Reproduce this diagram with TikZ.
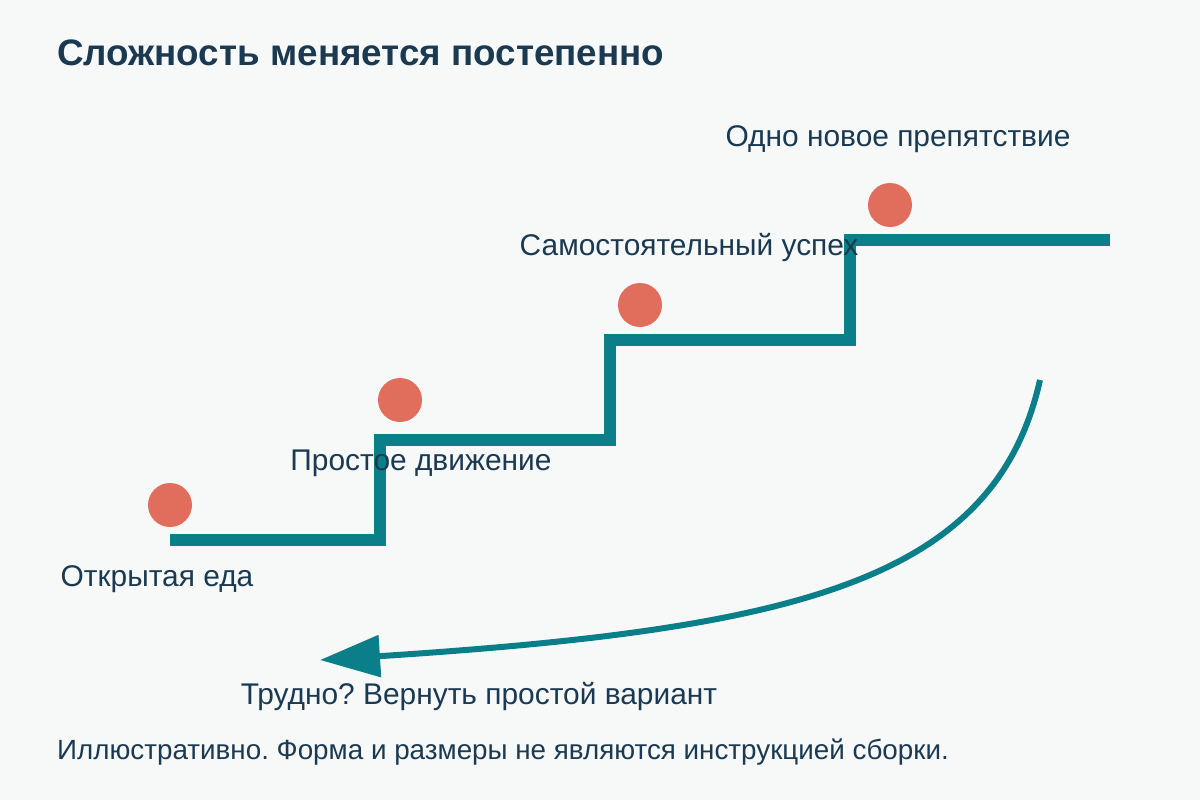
\documentclass[tikz,border=0pt]{standalone}
\usepackage{fontspec}
\setmainfont{Liberation Sans}
\usetikzlibrary{arrows.meta}
\definecolor{bgc}{HTML}{F7F9F9}
\definecolor{stepteal}{HTML}{0A7F8A}
\definecolor{dotc}{HTML}{E16E5C}
\definecolor{txt}{HTML}{1B3A52}
\tikzset{
  lbl/.style={inner sep=0pt, text=txt, font=\fontsize{29.9}{34}\selectfont, anchor=base},
  ttl/.style={inner sep=0pt, text=txt, font=\fontsize{36.8}{42}\selectfont\bfseries, anchor=base west},
  note/.style={inner sep=0pt, text=txt, font=\fontsize{27.8}{32}\selectfont\frenchspacing, anchor=base west},
  stair/.style={draw=stepteal, line width=12pt, line join=miter, line cap=butt},
  dotn/.style={circle, fill=dotc, minimum size=44pt, inner sep=0pt, draw=none},
  backarrow/.style={draw=stepteal, line width=6pt, -{Triangle[length=60pt,width=41pt]}}
}
\begin{document}
\frenchspacing
\begin{tikzpicture}[x=1pt,y=-1pt]
\fill[bgc] (0,0) rectangle (1200,800);
\useasboundingbox (0,0) rectangle (1200,800);

\node[ttl] (title) at (57,66) {Сложность меняется постепенно};

\coordinate (s0) at (170,540);
\coordinate (s1) at (380,540);
\coordinate (s2) at (380,440);
\coordinate (s3) at (610,440);
\coordinate (s4) at (610,340);
\coordinate (s5) at (850,340);
\coordinate (s6) at (850,240);
\coordinate (s7) at (1110,240);
\draw[stair] (s0) -- (s1) -- (s2) -- (s3) -- (s4) -- (s5) -- (s6) -- (s7);

\node[dotn] (d1) at (170,505) {};
\node[dotn] (d2) at (400,400) {};
\node[dotn] (d3) at (640,305) {};
\node[dotn] (d4) at (890,205) {};

\node[lbl] (l1) at (157,586) {Открытая еда};
\node[lbl] (l2) at (421,470) {Простое движение};
\node[lbl] (l3) at (689,255) {Самостоятельный успех};
\node[lbl] (l4) at (898,146) {Одно новое препятствие};

\coordinate (a0) at (1040,380);
\coordinate (a1) at (320,660);
\draw[backarrow] (a0) .. controls (995,580) and (800,629) .. (a1);
\node[lbl] (back) at (479,704) {Трудно? Вернуть простой вариант};

\node[note] (foot) at (57,759) {Иллюстративно. Форма и размеры не являются инструкцией сборки.};
\end{tikzpicture}
\end{document}
